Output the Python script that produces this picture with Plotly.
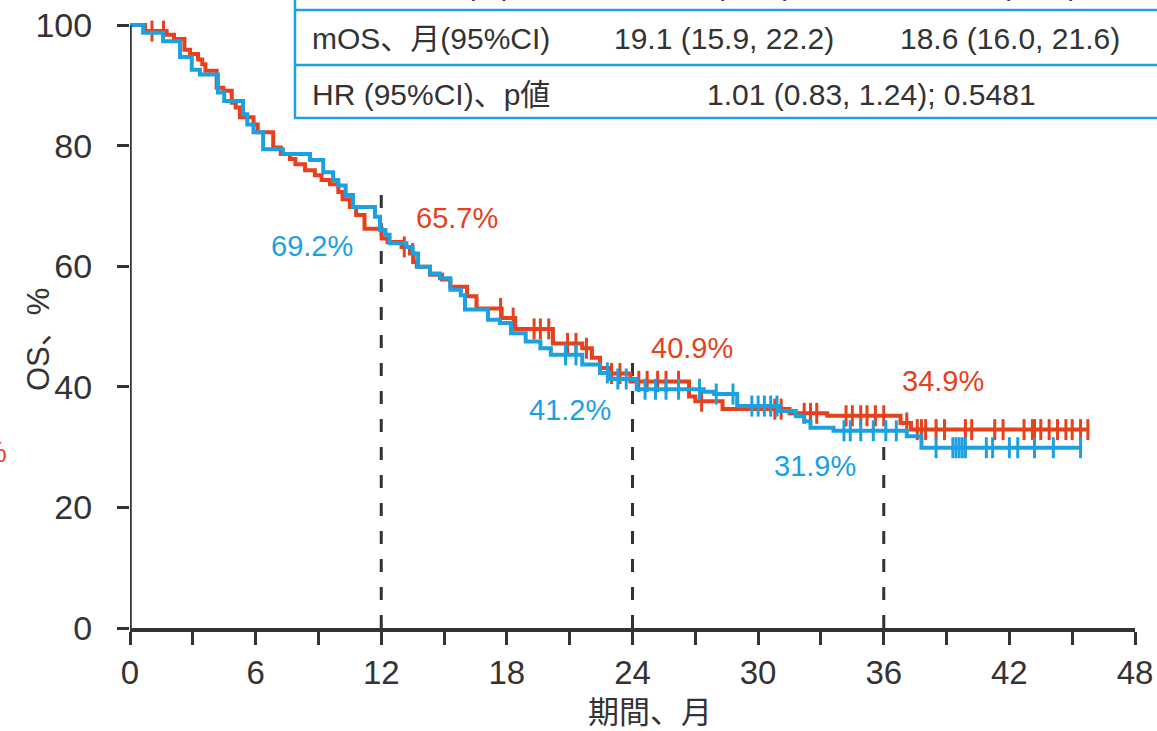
import numpy as np
import plotly.graph_objects as go

# ---------------- data ----------------
red_time = [0, 0.72, 1.75, 2.1, 2.6, 2.87, 3.25, 3.45, 3.6, 4.14, 4.46, 4.86, 5.05, 5.25, 5.9, 6.1,
            6.84, 7.2, 7.64, 7.9, 8.36, 8.83, 9.15, 9.55, 9.95, 10.15, 10.5, 10.8, 11.2, 12.02,
            12.3, 12.97, 13.37, 13.55, 13.7, 14.33, 14.9, 15.3, 16.1, 16.55, 17.75, 18.4, 20.2,
            21.6, 22.06, 22.45, 22.9, 23.9, 26.7, 27.0, 28.3, 31.5, 33.3, 36.8, 37.3, 45.75]
red_surv = [100, 99.0, 98.4, 97.7, 95.9, 95.2, 94.3, 93.5, 92.4, 89.6, 89.1, 87.1, 86.3, 84.7, 83.5, 82.2,
            79.7, 78.6, 77.8, 76.9, 75.9, 75.1, 74.3, 73.6, 72.3, 71.1, 69.8, 68.5, 66.2, 64.6,
            64.0, 63.2, 62.1, 60.7, 59.9, 58.6, 57.8, 56.6, 55.0, 53.0, 51.4, 49.6, 47.2,
            46.4, 44.8, 43.1, 42.2, 40.9, 38.4, 37.6, 36.3, 35.6, 35.2, 34.0, 32.9, 32.9]
red_censor = [1.05, 1.6, 13.1, 13.5, 17.7, 18.3, 19.3, 19.6, 20.0, 20.9, 21.3, 21.8, 23.0, 23.4,
              24.3, 24.7, 25.2, 25.6, 26.2, 27.3, 30.8, 31.1, 32.2, 32.5, 32.8, 34.2, 34.5, 34.9,
              35.2, 35.6, 36.0, 37.1, 37.6, 37.8, 38.0, 38.5, 38.9, 39.9, 40.2, 41.3, 41.7, 42.7,
              43.1, 43.2, 43.5, 43.9, 44.3, 44.7, 45.0, 45.4, 45.75]

blue_time = [0, 0.63, 1.58, 2.39, 2.95, 3.34, 4.2, 4.5, 5.4, 5.6, 5.9, 6.36, 7.3, 8.6, 9.23, 9.7,
             9.95, 10.3, 10.65, 11.7, 11.94, 12.2, 12.4, 13.2, 13.5, 13.76, 14.33, 14.8, 15.3,
             15.8, 16.0, 17.1, 17.67, 18.2, 18.9, 19.6, 20.1, 21.6, 22.45, 22.9, 24.2, 27.4,
             27.9, 29.0, 31.0, 31.8, 32.2, 32.5, 33.6, 37.1, 37.8, 45.4]
blue_surv = [100, 98.7, 97.3, 94.7, 92.6, 91.8, 88.8, 87.4, 85.2, 83.5, 82.2, 79.4, 78.6, 77.6, 75.6, 74.3,
             73.4, 71.8, 69.8, 68.2, 66.0, 65.2, 63.8, 63.2, 62.1, 59.9, 58.8, 58.0, 56.1,
             55.2, 52.8, 51.1, 50.6, 48.9, 47.5, 46.4, 45.3, 43.7, 42.3, 41.3, 39.6, 39.2,
             38.8, 36.8, 36.0, 35.1, 34.3, 33.2, 32.7, 31.8, 29.9, 29.9]
blue_censor = [20.8, 21.3, 22.8, 23.3, 23.7, 24.6, 25.1, 25.6, 26.2, 27.2, 28.0, 28.8, 29.7, 30.0,
               30.3, 30.6, 30.9, 34.1, 34.4, 34.9, 35.5, 36.1, 36.6, 38.5, 39.3, 39.45, 39.6,
               39.75, 39.9, 40.9, 41.2, 42.0, 42.4, 43.2, 44.1, 45.4]

landmark_months = [12, 24, 36]
landmark_tops = [72.8, 45.4, 32.3]
red_landmark_labels = ["65.7%", "40.9%", "34.9%"]
blue_landmark_labels = ["69.2%", "41.2%", "31.9%"]

table_rows = [
    ["イベント n (%)", "\u2007\u2007\u2007 (\u2007\u2007.\u2007)", "\u2007\u2007\u2007 (\u2007\u2007.\u2007)"],
    ["mOS、月(95%CI)", "19.1 (15.9, 22.2)", "18.6 (16.0, 21.6)"],
    ["HR (95%CI)、p値", "1.01 (0.83, 1.24); 0.5481", None],
]

x_ticks = list(range(0, 49, 3))
x_ticktext = [str(v) if v % 6 == 0 else "" for v in x_ticks]
y_ticks = [0, 20, 40, 60, 80, 100]

RED = "#E8401A"
BLUE = "#1BA1E2"
DARK = "#333333"
FONT = "Liberation Sans, Arial, Noto Sans CJK JP"

# ---------------- layout geometry (pixels) ----------------
W, H = 1157, 731
L, R, T, B = 130, 22, 22, 103
PW, PH = W - L - R, H - T - B


def px(xp):
    return (xp - L) / PW


def py(yp):
    return (H - B - yp) / PH


def step_val(times, surv, t):
    i = np.searchsorted(np.array(times), t, side="right") - 1
    return np.array(surv)[i]


fig = go.Figure()

for times, surv, cens, col in [(red_time, red_surv, red_censor, RED),
                               (blue_time, blue_surv, blue_censor, BLUE)]:
    fig.add_trace(go.Scatter(x=times, y=surv, mode="lines", line=dict(shape="hv", color=col, width=4),
                             hoverinfo="skip", showlegend=False))
    fig.add_trace(go.Scatter(x=cens, y=[step_val(times, surv, c) for c in cens], mode="markers",
                             marker=dict(symbol="line-ns", size=15, line=dict(color=col, width=3)),
                             hoverinfo="skip", showlegend=False, cliponaxis=False))

shapes = []
# y axis line
shapes.append(dict(type="line", xref="x", yref="y", x0=0, x1=0, y0=0, y1=100,
                   line=dict(color=DARK, width=3.5)))
for m, top in zip(landmark_months, landmark_tops):
    shapes.append(dict(type="line", xref="x", yref="y", x0=m, x1=m, y0=0, y1=top, layer="below",
                       line=dict(color=DARK, width=3, dash="13px,15px")))

# table
TB = BLUE
shapes.append(dict(type="line", xref="paper", yref="paper", x0=px(295), x1=px(295), y0=py(-2), y1=py(118),
                   line=dict(color=TB, width=2.5)))
for yl in [10, 65, 118]:
    shapes.append(dict(type="line", xref="paper", yref="paper", x0=px(294), x1=px(1160), y0=py(yl), y1=py(yl),
                       line=dict(color=TB, width=2.5)))

annotations = []
row_centers = [-16, 39, 94]
col_x = [(310, "left"), (724, "center"), (1010, "center")]
for r_i, row in enumerate(table_rows):
    for c_i, txt in enumerate(row):
        if txt is None:
            continue
        xx, anc = col_x[c_i]
        if r_i == 2 and c_i == 1:
            xx = 871
        annotations.append(dict(text=txt, xref="paper", yref="paper", x=px(xx), y=py(row_centers[r_i]),
                                xanchor=anc, yanchor="middle", showarrow=False,
                                font=dict(size=30, color=DARK, family=FONT)))

# landmark percentages
label_pos_red = [(457, 218), (692, 348), (943, 381)]
label_pos_blue = [(312, 246), (570, 410), (815, 466)]
for (xx, yy), t in zip(label_pos_red, red_landmark_labels):
    annotations.append(dict(text=t, xref="paper", yref="paper", x=px(xx), y=py(yy), xanchor="center",
                            yanchor="middle", showarrow=False, font=dict(size=29, color=RED, family=FONT)))
for (xx, yy), t in zip(label_pos_blue, blue_landmark_labels):
    annotations.append(dict(text=t, xref="paper", yref="paper", x=px(xx), y=py(yy), xanchor="center",
                            yanchor="middle", showarrow=False, font=dict(size=29, color=BLUE, family=FONT)))

# cut-off red % at far left
annotations.append(dict(text="%", xref="paper", yref="paper", x=px(9), y=py(452), xanchor="right",
                        yanchor="middle", showarrow=False, font=dict(size=29, color=RED, family=FONT)))

# axis titles
annotations.append(dict(text="期間、月", xref="paper", yref="paper", x=px(650), y=py(712), xanchor="center",
                        yanchor="middle", showarrow=False, font=dict(size=31, color=DARK, family=FONT)))
annotations.append(dict(text="OS、%", xref="paper", yref="paper", x=px(38), y=py(340), xanchor="center",
                        yanchor="middle", textangle=-90, showarrow=False,
                        font=dict(size=31, color=DARK, family=FONT)))

fig.update_layout(
    template="none",
    width=W, height=H,
    margin=dict(l=L, r=R, t=T, b=B, pad=0, autoexpand=False),
    paper_bgcolor="white", plot_bgcolor="white",
    shapes=shapes, annotations=annotations,
    xaxis=dict(range=[0, 48], tickvals=x_ticks, ticktext=x_ticktext, ticks="outside", ticklen=13,
               tickwidth=2.5, tickcolor=DARK, showline=True, linecolor=DARK, linewidth=3.5,
               showgrid=False, zeroline=False, automargin=False,
               tickfont=dict(size=33, color=DARK, family=FONT), ticklabelstandoff=0),
    yaxis=dict(range=[0, 100.5], tickvals=y_ticks, ticks="outside", ticklen=12, tickwidth=2.5,
               tickcolor=DARK, showline=False, showgrid=False, zeroline=False, automargin=False,
               tickfont=dict(size=34, color=DARK, family=FONT), ticklabelstandoff=18),
)

fig.write_html("out.html", config={"displayModeBar": False},
               post_script="document.body.style.margin='0px';document.body.style.overflow='hidden';")
